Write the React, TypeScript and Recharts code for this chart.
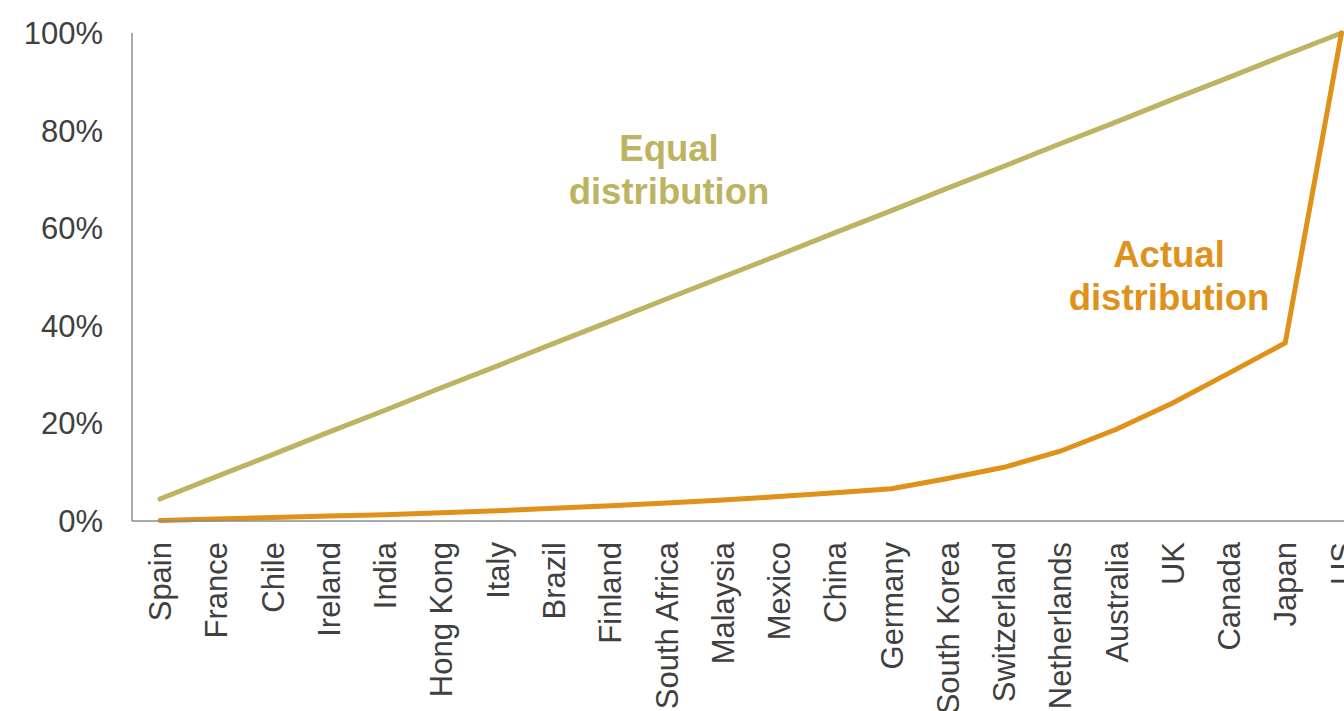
import React from 'react';
import { LineChart, Line, XAxis, YAxis, Customized } from 'recharts';

// Countries, smallest to largest
const countries = [
  'Spain', 'France', 'Chile', 'Ireland', 'India', 'Hong Kong', 'Italy', 'Brazil',
  'Finland', 'South Africa', 'Malaysia', 'Mexico', 'China', 'Germany', 'South Korea',
  'Switzerland', 'Netherlands', 'Australia', 'UK', 'Canada', 'Japan', 'US',
];

// Cumulative share, %
const equalShare = [
  4.5, 9.1, 13.6, 18.2, 22.7, 27.3, 31.8, 36.4, 40.9, 45.5, 50.0,
  54.5, 59.1, 63.6, 68.2, 72.7, 77.3, 81.8, 86.4, 90.9, 95.5, 100,
];
const actualShare = [
  0.1, 0.4, 0.7, 1.0, 1.3, 1.7, 2.1, 2.6, 3.1, 3.7, 4.3,
  5.0, 5.8, 6.6, 8.7, 11.0, 14.3, 18.8, 24.2, 30.3, 36.5, 100,
];

const yTicks = [0, 20, 40, 60, 80, 100];

const data = countries.map((name, i) => ({
  name,
  equal: equalShare[i],
  actual: actualShare[i],
}));

const FONT = '"Liberation Sans", Arial, sans-serif';
const EQUAL_COLOR = '#bdb462';
const ACTUAL_COLOR = '#df9119';
const AXIS_COLOR = '#8c8c8c';
const TEXT_COLOR = '#404040';

const CountryTick = ({ x, y, payload }: any) => (
  <g transform={`translate(${x},${y})`}>
    <text
      transform="rotate(-90)"
      x={0}
      y={0}
      dy="0.36em"
      textAnchor="end"
      fill={TEXT_COLOR}
      fontSize={31}
      fontFamily={FONT}
    >
      {payload.value}
    </text>
  </g>
);

const Annotations = () => (
  <g fontFamily={FONT} fontWeight="bold" fontSize={36.5} textAnchor="middle">
    <text x={669} y={161} fill={EQUAL_COLOR}>Equal</text>
    <text x={669} y={204} fill={EQUAL_COLOR}>distribution</text>
    <text x={1169} y={267} fill={ACTUAL_COLOR}>Actual</text>
    <text x={1169} y={310} fill={ACTUAL_COLOR}>distribution</text>
  </g>
);

export default function App() {
  return (
    <div style={{ position: 'absolute', left: 0, top: 0, width: 1344, height: 711, overflow: 'hidden', background: '#fff' }}>
      <LineChart
        width={1400}
        height={711}
        data={data}
        margin={{ top: 33, right: 30.5, left: 0, bottom: 0 }}
      >
        <XAxis
          dataKey="name"
          interval={0}
          height={190}
          padding={{ left: 28, right: 28 }}
          tickLine={false}
          tickSize={0}
          tickMargin={21}
          axisLine={{ stroke: AXIS_COLOR, strokeWidth: 1.5 }}
          tick={<CountryTick />}
        />
        <YAxis
          width={132}
          domain={[0, 100]}
          ticks={yTicks}
          tickFormatter={(v: number) => `${v}%`}
          tickLine={false}
          tickSize={0}
          tickMargin={29}
          axisLine={{ stroke: AXIS_COLOR, strokeWidth: 1.5 }}
          tick={{ fill: TEXT_COLOR, fontSize: 31, fontFamily: FONT }}
        />
        <Line
          type="linear"
          dataKey="equal"
          stroke={EQUAL_COLOR}
          strokeWidth={5}
          strokeLinecap="round"
          dot={false}
          activeDot={false}
          isAnimationActive={false}
        />
        <Line
          type="linear"
          dataKey="actual"
          stroke={ACTUAL_COLOR}
          strokeWidth={5}
          strokeLinecap="round"
          dot={false}
          activeDot={false}
          isAnimationActive={false}
        />
        <Customized component={Annotations} />
      </LineChart>
    </div>
  );
}
